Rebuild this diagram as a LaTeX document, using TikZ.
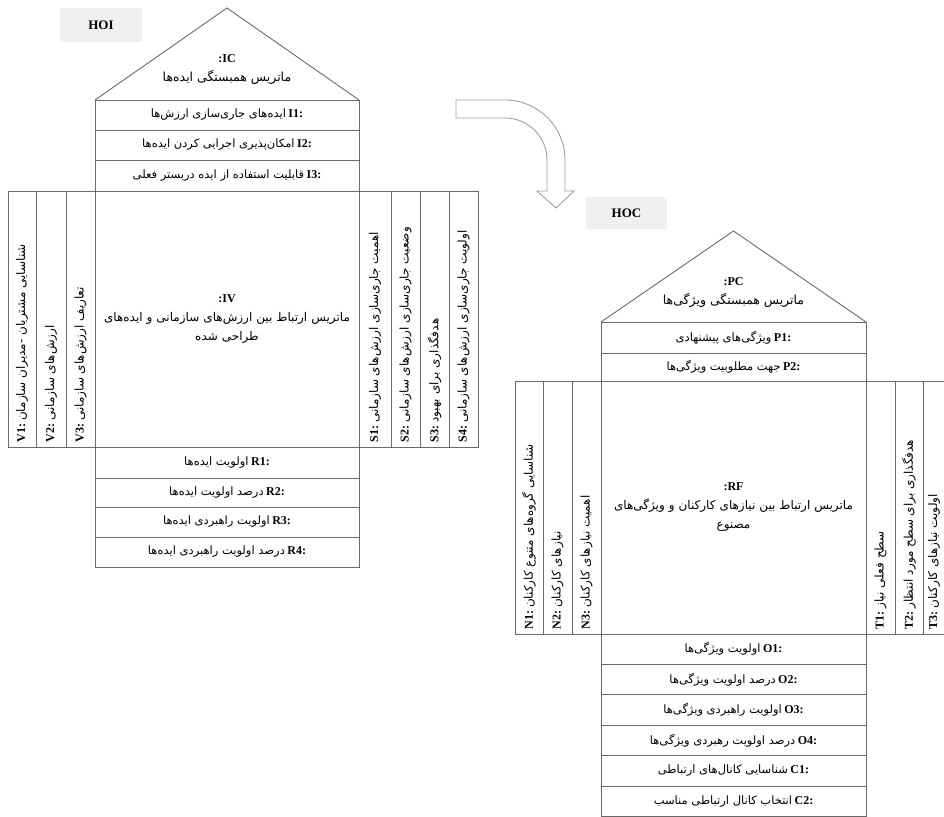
\documentclass[tikz,border=0pt]{standalone}
\usepackage{fontspec}
\setmainfont{Liberation Serif}
\newfontfamily\arabicfont[Script=Arabic]{DejaVu Sans}
\TeXXeTstate=1
\newcommand\prs[2][11.5]{{\arabicfont\fontsize{#1}{19}\selectfont\beginR #2\endR}}
\newcommand\lbl[1]{{\bfseries\fontsize{12}{19}\selectfont #1}}
\definecolor{linec}{RGB}{105,105,105}
\definecolor{tagfill}{RGB}{240,240,240}
\begin{document}
\begin{tikzpicture}[x=1pt,y=-1pt,
  every node/.style={inner sep=0pt,outer sep=0pt},
  cell/.style={draw=linec,line width=0.9pt,align=center},
  multi/.style={align=center,font=\fontsize{12}{19}\selectfont},
  tagbox/.style={fill=tagfill,font=\bfseries\fontsize{13}{15}\selectfont},
  roofline/.style={draw=linec,line width=0.9pt},
  coltext/.style={rotate=90,anchor=west},
  arrowline/.style={draw=gray!75,line width=0.9pt,fill=white}]
\useasboundingbox (0,0) rectangle (944,816);

% ================= HOI =================
\node[tagbox,minimum width=82pt,minimum height=34pt] (hoi) at (101,25) {HOI};
\coordinate (hoiL) at (95,100);
\coordinate (hoiA) at (227,8);
\coordinate (hoiR) at (359,100);
\draw[roofline] (hoiL) -- (hoiA) -- (hoiR);
\node[multi] (ic) at (227,70) {\lbl{:IC}\\\prs[12.5]{ماتریس همبستگی ایده‌ها}};

\node[cell,minimum width=264pt,minimum height=30pt] (i1) at (227,115) {\prs{ایده‌های جاری‌سازی ارزش‌ها}\ \lbl{I1:}};
\node[cell,minimum width=264pt,minimum height=30pt] (i2) at (227,145) {\prs{امکان‌پذیری اجرایی کردن ایده‌ها}\ \lbl{I2:}};
\node[cell,minimum width=264pt,minimum height=31pt] (i3) at (227,175.5) {\prs{قابلیت استفاده از ایده دربستر فعلی}\ \lbl{I3:}};

\node[cell,multi,minimum width=264pt,minimum height=256pt,text width=262pt] (iv) at (227,319)
  {\lbl{:IV}\\\prs[12]{ماتریس ارتباط بین ارزش‌های سازمانی و ایده‌های}\\\prs[12]{طراحی شده}};

\node[cell,minimum width=28pt,minimum height=256pt] (v1) at (22,319) {};
\node[cell,minimum width=30pt,minimum height=256pt] (v2) at (51,319) {};
\node[cell,minimum width=29pt,minimum height=256pt] (v3) at (80.5,319) {};
\node[coltext] (v1t) at (22,442) {\lbl{V1:}\ \prs[12]{شناسایی مشتریان -مدیران سازمان}};
\node[coltext] (v2t) at (51,442) {\lbl{V2:}\ \prs[12]{ارزش‌های سازمانی}};
\node[coltext] (v3t) at (80.5,442) {\lbl{V3:}\ \prs[12]{تعاریف ارزش‌های سازمانی}};

\node[cell,minimum width=32pt,minimum height=256pt] (s1) at (375,319) {};
\node[cell,minimum width=29pt,minimum height=256pt] (s2) at (405.5,319) {};
\node[cell,minimum width=29pt,minimum height=256pt] (s3) at (434.5,319) {};
\node[cell,minimum width=29pt,minimum height=256pt] (s4) at (463.5,319) {};
\node[coltext] (s1t) at (375,442) {\lbl{S1:}\ \prs[12]{اهمیت جاری‌سازی ارزش‌های سازمانی}};
\node[coltext] (s2t) at (405.5,442) {\lbl{S2:}\ \prs[12]{وضعیت جاری‌سازی ارزش‌های سازمانی}};
\node[coltext] (s3t) at (434.5,442) {\lbl{S3:}\ \prs[12]{هدفگذاری برای بهبود}};
\node[coltext] (s4t) at (463.5,442) {\lbl{S4:}\ \prs[12]{اولویت جاری‌سازی ارزش‌های سازمانی}};

\node[cell,minimum width=264pt,minimum height=31pt] (r1) at (227,462.5) {\prs{اولویت ایده‌ها}\ \lbl{R1:}};
\node[cell,minimum width=264pt,minimum height=29pt] (r2) at (227,492.5) {\prs{درصد اولویت ایده‌ها}\ \lbl{R2:}};
\node[cell,minimum width=264pt,minimum height=30pt] (r3) at (227,522) {\prs{اولویت راهبردی ایده‌ها}\ \lbl{R3:}};
\node[cell,minimum width=264pt,minimum height=30pt] (r4) at (227,552) {\prs{درصد اولویت راهبردی ایده‌ها}\ \lbl{R4:}};

% ================= curved arrow =================
\draw[arrowline] (456,100) -- (505,100) arc[start angle=90,end angle=0,radius=60pt]
  -- (565,191) -- (574,191) -- (556,208) -- (537,191) -- (547,191) -- (547,160)
  arc[start angle=0,end angle=90,radius=42pt] -- (456,118) -- cycle;

% ================= HOC =================
\node[tagbox,minimum width=81pt,minimum height=32pt] (hoc) at (626.5,213) {HOC};
\coordinate (hocL) at (601,322);
\coordinate (hocA) at (733.5,231);
\coordinate (hocR) at (866,322);
\draw[roofline] (hocL) -- (hocA) -- (hocR);
\node[multi] (pc) at (733.5,293) {\lbl{:PC}\\\prs[12.5]{ماتریس همبستگی ویژگی‌ها}};

\node[cell,minimum width=265pt,minimum height=31pt] (p1) at (733.5,337.5) {\prs{ویژگی‌های پیشنهادی}\ \lbl{P1:}};
\node[cell,minimum width=265pt,minimum height=28pt] (p2) at (733.5,367) {\prs{جهت مطلوبیت ویژگی‌ها}\ \lbl{P2:}};

\node[cell,multi,minimum width=265pt,minimum height=253pt,text width=263pt] (rf) at (733.5,507.5)
  {\lbl{:RF}\\\prs[12]{ماتریس ارتباط بین نیازهای کارکنان و ویژگی‌های}\\\prs[12]{مصنوع}};

\node[cell,minimum width=28pt,minimum height=253pt] (n1) at (529,507.5) {};
\node[cell,minimum width=29pt,minimum height=253pt] (n2) at (557.5,507.5) {};
\node[cell,minimum width=29pt,minimum height=253pt] (n3) at (586.5,507.5) {};
\node[coltext] (n1t) at (529,629) {\lbl{N1:}\ \prs[12]{شناسایی گروه‌های متنوع کارکنان}};
\node[coltext] (n2t) at (557.5,629) {\lbl{N2:}\ \prs[12]{نیازهای کارکنان}};
\node[coltext] (n3t) at (586.5,629) {\lbl{N3:}\ \prs[12]{اهمیت نیازهای کارکنان}};

\node[cell,minimum width=29pt,minimum height=253pt] (t1) at (880.5,507.5) {};
\node[cell,minimum width=28pt,minimum height=253pt] (t2) at (909,507.5) {};
\node[cell,minimum width=28pt,minimum height=253pt] (t3) at (937,507.5) {};
\node[coltext] (t1t) at (880.5,629) {\lbl{T1:}\ \prs[12]{سطح فعلی نیاز}};
\node[coltext] (t2t) at (909,629) {\lbl{T2:}\ \prs[12]{هدفگذاری برای سطح مورد انتظار}};
\node[coltext] (t3t) at (934,629) {\lbl{T3:}\ \prs[12]{اولویت نیازهای کارکنان}};

\node[cell,minimum width=265pt,minimum height=30.4pt] (o1) at (733.5,649.2) {\prs{اولویت ویژگی‌ها}\ \lbl{O1:}};
\node[cell,minimum width=265pt,minimum height=30.4pt] (o2) at (733.5,679.6) {\prs{درصد اولویت ویژگی‌ها}\ \lbl{O2:}};
\node[cell,minimum width=265pt,minimum height=30.4pt] (o3) at (733.5,710.0) {\prs{اولویت راهبردی ویژگی‌ها}\ \lbl{O3:}};
\node[cell,minimum width=265pt,minimum height=30.4pt] (o4) at (733.5,740.4) {\prs{درصد اولویت رهبردی ویژگی‌ها}\ \lbl{O4:}};
\node[cell,minimum width=265pt,minimum height=30.4pt] (c1) at (733.5,770.8) {\prs{شناسایی کانال‌های ارتباطی}\ \lbl{C1:}};
\node[cell,minimum width=265pt,minimum height=30.4pt] (c2) at (733.5,801.2) {\prs{انتخاب کانال ارتباطی مناسب}\ \lbl{C2:}};
\end{tikzpicture}
\end{document}
